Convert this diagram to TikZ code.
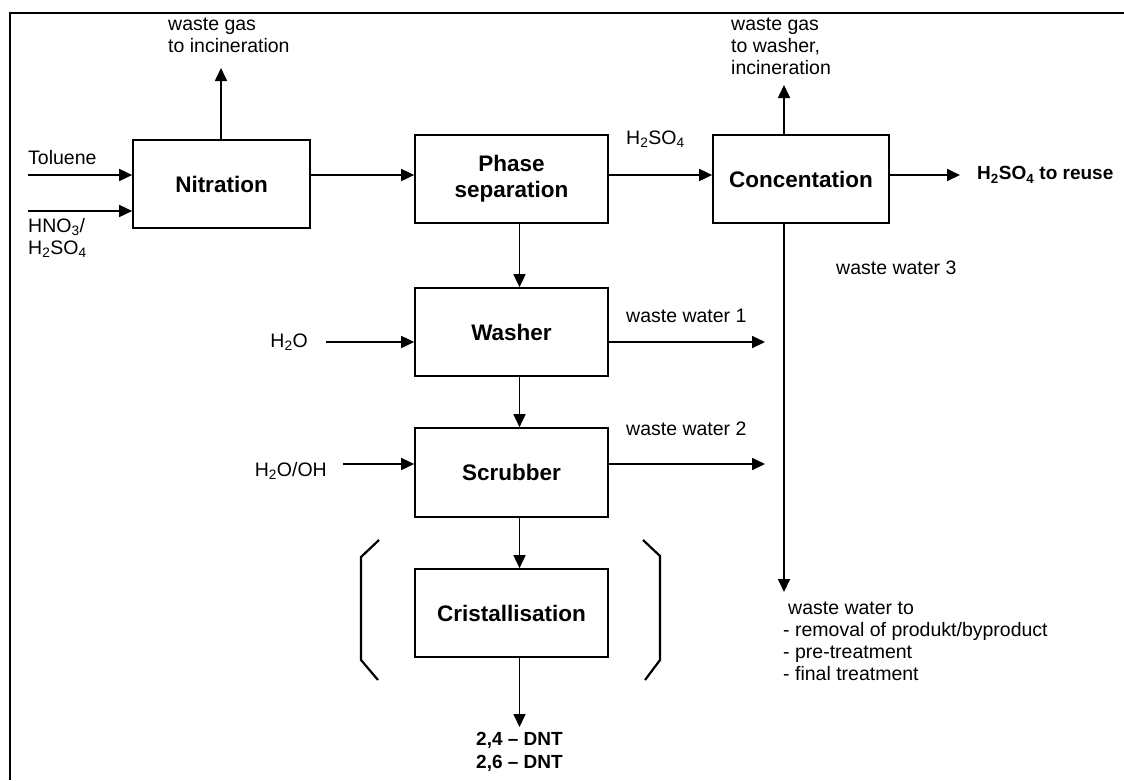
\documentclass[tikz,border=0pt]{standalone}
\usepackage{fontspec}
\setmainfont{Liberation Sans}
\usetikzlibrary{arrows.meta,positioning}

\begin{document}
\begin{tikzpicture}[
        x=1pt, y=-1pt,
        unit/.style={
            draw,
            line width=1.7pt,
            minimum width=193pt,
            minimum height=88pt,
            inner sep=0pt,
            align=center,
            font=\fontsize{22.5}{26}\selectfont\bfseries
        },
        lbl/.style={
            inner sep=0pt,
            align=left,
            font=\fontsize{19.5}{22}\selectfont
        },
        boldlbl/.style={
            inner sep=0pt,
            align=center,
            font=\fontsize{19}{23}\selectfont\bfseries
        },
        flow/.style={
            line width=1.7pt,
            -{Triangle[length=13pt,width=12pt]}
        }
    ]
        \useasboundingbox (0,0) rectangle (1124,780);

        % Frame
        \draw[line width=1.8pt] (1124,13) -- (10,13) -- (10,780);

        % Process units
        \node[unit, minimum width=177pt] (nitr) at (221.5,184) {Nitration};
        \node[unit] (phase) at (511.5,179) {Phase\\separation};
        \node[unit, minimum width=176pt] (conc) at (801,179) {Concentation};
        \node[unit] (washer) at (511.5,332) {Washer};
        \node[unit, minimum height=89pt] (scrub) at (511.5,472.5) {Scrubber};
        \node[unit] (crist) at (511.5,613) {Cristallisation};

        % Feeds to nitration
        \coordinate (tol) at (28,175);
        \coordinate (acid) at (28,211);
        \node[lbl, above right=10pt and 0pt of tol] (toluene) {Toluene};
        \node[lbl, below right=7pt and 0pt of acid] (mixacid) {HNO\textsubscript{3}/\\H\textsubscript{2}SO\textsubscript{4}};
        \draw[flow] (tol) -- (tol -| nitr.west);
        \draw[flow] (acid) -- (acid -| nitr.west);

        % Waste gas from nitration
        \node[lbl, anchor=north west] (gas1) at (168,18) {waste gas\\to incineration};
        \coordinate (gas1tip) at (221,68);
        \draw[flow] (gas1tip |- nitr.north) -- (gas1tip);

        % Main line
        \draw[flow] ([yshift=9pt]nitr.east) -- ([yshift=9pt]nitr.east -| phase.west);
        \draw[flow] ([yshift=4pt]phase.east) -- ([yshift=4pt]conc.west);
        \node[lbl, anchor=west] (sulf) at (626,139) {H\textsubscript{2}SO\textsubscript{4}};

        % Concentration outputs
        \node[lbl, anchor=north west] (gas2) at (731,18) {waste gas\\to washer,\\incineration};
        \coordinate (gas2tip) at (784,85);
        \draw[flow] (gas2tip |- conc.north) -- (gas2tip);
        \coordinate (reuse) at (960,175);
        \draw[flow] ([yshift=4pt]conc.east) -- (reuse);
        \node[boldlbl, anchor=west, right=17pt of reuse] (reuselbl) {H\textsubscript{2}SO\textsubscript{4} to reuse};

        % Waste water collector
        \coordinate (wwtip) at (784,592);
        \draw[flow] (wwtip |- conc.south) -- (wwtip);
        \node[lbl, anchor=west] (ww3) at (836,268) {waste water 3};
        \node[lbl, anchor=north west] (wwdest) at (783,602) {\hspace{5pt}waste water to\\- removal of produkt/byproduct\\- pre-treatment\\- final treatment};

        % Washing steps
        \draw[flow] ([xshift=8pt]phase.south) -- ([xshift=8pt]washer.north);
        \draw[flow] ([xshift=8pt]washer.south) -- ([xshift=8pt]scrub.north);
        \draw[flow] ([xshift=8pt]scrub.south) -- ([xshift=8pt]crist.north);

        \coordinate (water) at (326,342);
        \node[lbl, left=18pt of water] (h2o) {H\textsubscript{2}O};
        \draw[flow] (water) -- (water -| washer.west);
        \coordinate (lye) at (343,464);
        \node[lbl, left=16pt of lye, yshift=-7pt] (h2ooh) {H\textsubscript{2}O/OH};
        \draw[flow] (lye) -- (lye -| scrub.west);

        \coordinate (ww1tip) at (765,342);
        \draw[flow] (washer.east |- ww1tip) -- (ww1tip);
        \node[lbl, anchor=west] (ww1) at (626,316) {waste water 1};
        \coordinate (ww2tip) at (765,464);
        \draw[flow] (scrub.east |- ww2tip) -- (ww2tip);
        \node[lbl, anchor=west] (ww2) at (626,429) {waste water 2};

        % Optional step
        \draw[line width=2.2pt] (379,540) -- (361,557) -- (361,660) -- (378,680);
        \draw[line width=2.2pt] (643,540) -- (660,556) -- (660,660) -- (645,680);

        % Product
        \coordinate (dnttip) at (519.5,727);
        \draw[flow] ([xshift=8pt]crist.south) -- (dnttip);
        \node[boldlbl, below=5pt of dnttip] (dnt) {2,4 -- DNT\\2,6 -- DNT};
    \end{tikzpicture}
\end{document}
